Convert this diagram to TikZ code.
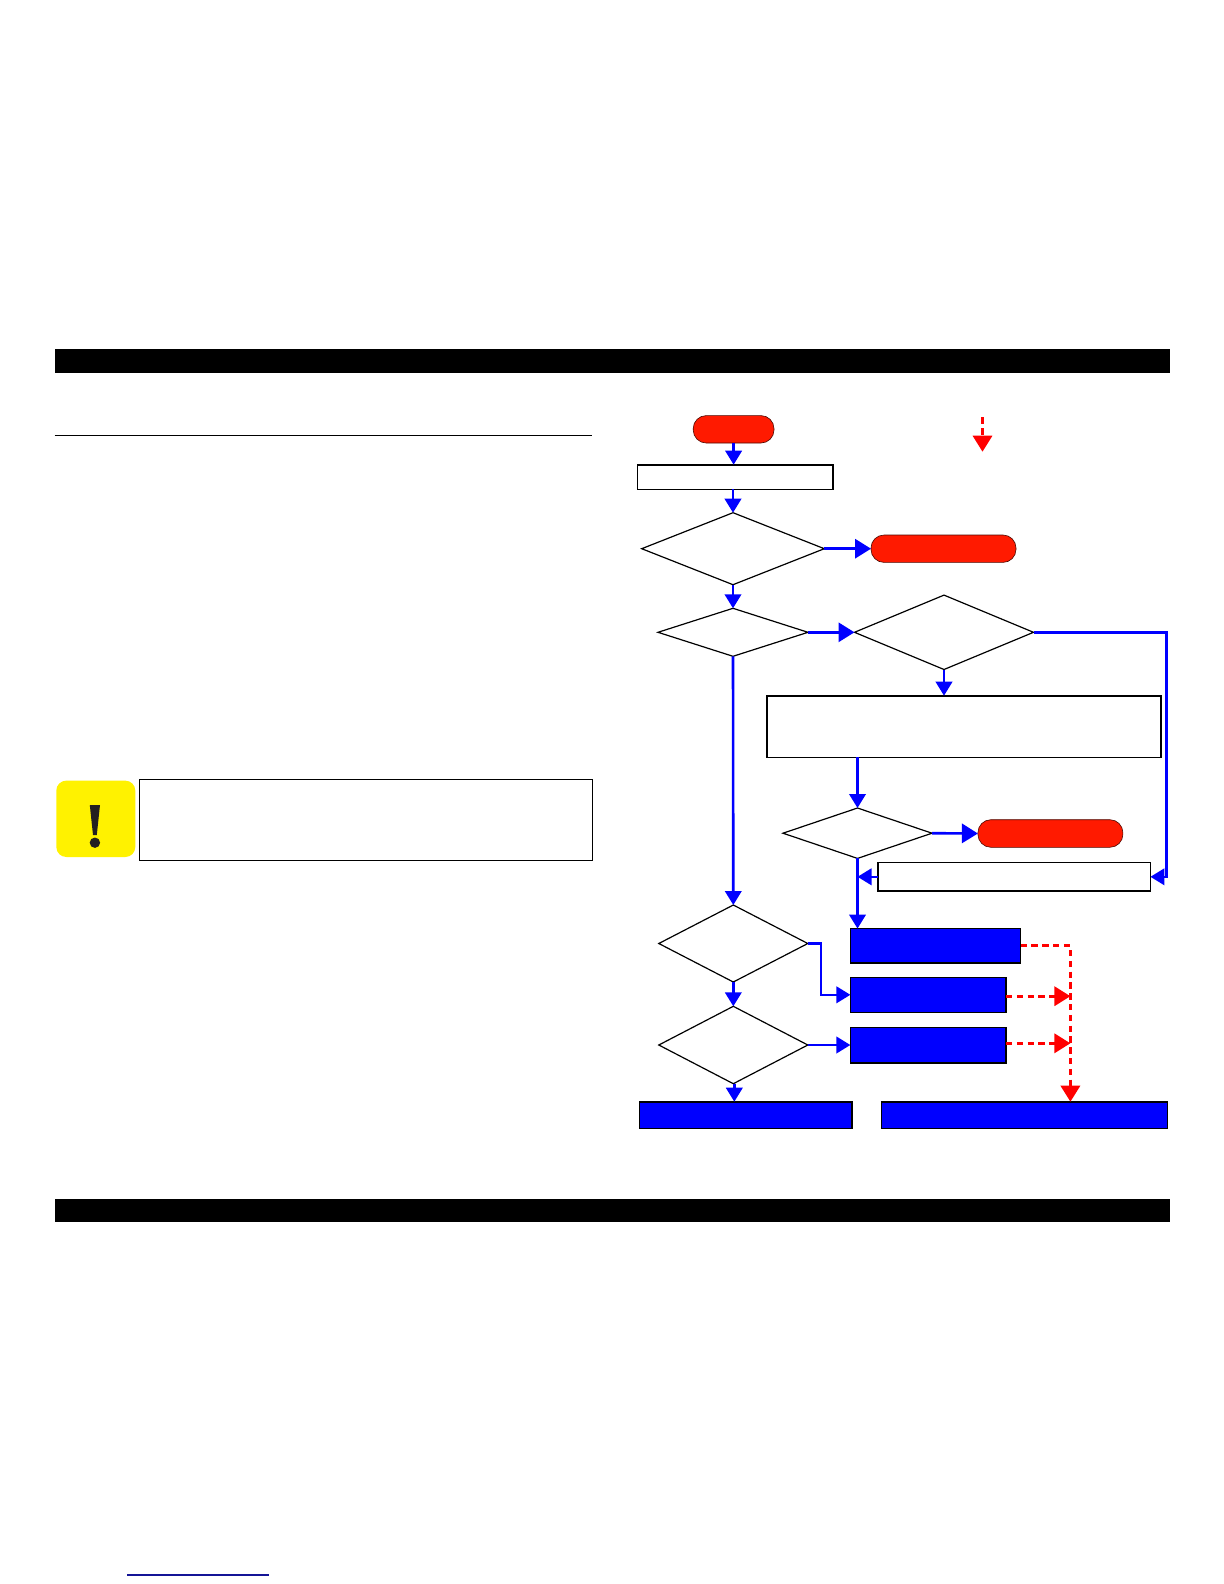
\documentclass[tikz,border=0pt]{standalone}
\usetikzlibrary{shapes.geometric,arrows.meta}
\definecolor{pillred}{RGB}{255,26,0}
\definecolor{iconyellow}{RGB}{255,242,0}
\definecolor{icondark}{RGB}{35,31,32}
\definecolor{linknavy}{RGB}{20,20,150}
\tikzset{
  shp/.style={inner sep=0pt,outer sep=0pt,line width=0.8pt,draw=black},
  whitebox/.style={shp,rectangle,fill=white},
  bluebox/.style={shp,rectangle,fill=blue,line width=0.8pt},
  decision/.style={shp,diamond,fill=white,aspect=1,line width=0.6pt},
  pill/.style={rectangle,inner sep=0pt,outer sep=0pt,rounded corners=6.5pt,fill=pillred,draw=black!70!pillred,line width=0.3pt},
  bar/.style={rectangle,fill=black,inner sep=0pt,outer sep=0pt},
  flow/.style={draw=blue,line width=1.3pt,-{Triangle[length=7pt,width=8.2pt]}},
  flowbig/.style={draw=blue,line width=1.3pt,-{Triangle[length=8pt,width=9.6pt]}},
  redflow/.style={draw=red,line width=1.4pt,dash pattern=on 3.2pt off 2.2pt,-{Triangle[length=8pt,width=9.6pt]}},
}
\begin{document}
\begin{tikzpicture}[x=0.5pt,y=-0.5pt]
\useasboundingbox (0,0) rectangle (1224,1584);
% header, footer, rule, link line
\node[bar,minimum width=557.5pt,minimum height=11.6pt] (topbar) at (612,361) {};
\node[bar,minimum width=557.5pt,minimum height=11.4pt] (botbar) at (612,1210.5) {};
\coordinate (hrL) at (54.5,435.3); \coordinate (hrR) at (592,435.3);
\draw[line width=0.4pt,black] (hrL) -- (hrR);
\coordinate (lkL) at (127,1575); \coordinate (lkR) at (269,1575);
\draw[line width=0.55pt,linknavy] (lkL) -- (lkR);
% caution icon and box
\node[rectangle,fill=iconyellow,rounded corners=5pt,inner sep=0pt,minimum width=39.5pt,minimum height=38.2pt] (icon) at (95.8,818.8) {};
\fill[icondark] (89.8,805) -- (100,805) -- (96.8,835) -- (93,835) -- cycle;
\fill[icondark] (94.9,842.7) circle[radius=5.2];
\node[whitebox,line width=0.6pt,minimum width=226.7pt,minimum height=40.5pt] (note) at (366,819.8) {};
% flowchart nodes
\node[pill,minimum width=40.4pt,minimum height=13.7pt] (start) at (733.6,429.3) {};
\node[whitebox,minimum width=97.85pt,minimum height=12.3pt] (r1) at (735.35,477) {};
\node[decision,minimum width=91.3pt,minimum height=36pt] (d1) at (733,548.7) {};
\node[pill,minimum width=72.5pt,minimum height=13.7pt] (e1) at (943.5,548.7) {};
\node[decision,minimum width=75pt,minimum height=24pt] (d2) at (733,632.3) {};
\node[decision,minimum width=89.5pt,minimum height=37.2pt] (d3) at (944,632.3) {};
\node[whitebox,minimum width=197pt,minimum height=30.8pt] (r2) at (963.7,726.5) {};
\node[decision,minimum width=74.5pt,minimum height=25.2pt] (d4) at (857.5,833.2) {};
\node[pill,minimum width=72.5pt,minimum height=13.8pt] (e2) at (1050.4,833.5) {};
\node[whitebox,minimum width=136.1pt,minimum height=14.2pt] (r3) at (1014.3,876.8) {};
\node[decision,minimum width=74.5pt,minimum height=38.5pt] (d5) at (733.3,943.5) {};
\node[bluebox,minimum width=85.1pt,minimum height=17.2pt] (b1) at (935.5,945.8) {};
\node[bluebox,minimum width=77.8pt,minimum height=17.5pt] (b2) at (928.2,994.8) {};
\node[decision,minimum width=74.5pt,minimum height=38.7pt] (d6) at (733.3,1045) {};
\node[bluebox,minimum width=77.8pt,minimum height=17.7pt] (b3) at (928.2,1045) {};
\node[bluebox,minimum width=106.2pt,minimum height=13.3pt] (b4) at (745.8,1115) {};
\node[bluebox,minimum width=143pt,minimum height=13.3pt] (b5) at (1024.4,1115) {};
% helper points
\coordinate (legS) at (982.5,417.3); \coordinate (legE) at (982.5,451.7);
\coordinate (rt) at (1166.4,876.8);
\coordinate (jog) at (821,994.8);
\coordinate (rv) at (1070.4,1000);
% blue connectors
\draw[flow] (start.south) -- (start.south |- r1.north);
\draw[flow] (d1.north |- r1.south) -- (d1.north);
\draw[flowbig] (d1.east) -- (e1.west);
\draw[flow] (d1.south) -- (d2.north);
\draw[flowbig] (d2.east) -- (d3.west);
\draw[flow] (d3.south) -- (d3.south |- r2.north);
\draw[flow] (d3.east) -| (rt) -- (r3.east);
\draw[flow] (d4.north |- r2.south) -- (d4.north);
\draw[flowbig] (d4.east) -- (e2.west);
\draw[flow] (d4.south) -- (d4.south |- b1.north);
\draw[flow] (r3.west) -- (r3.west -| d4.south);
\draw[flow] (d2.south) -- (d5.north);
\draw[flow] (d5.south) -- (d6.north);
\draw[flow] (d5.east) -| (jog) -- (b2.west);
\draw[flow] (d6.east) -- (b3.west);
\draw[flow] ([xshift=0.5pt]d6.south) -- ([xshift=0.5pt]d6.south |- b4.north);
% red connectors
\draw[redflow] (legS) -- (legE);
\draw[redflow] (b1.east) -| (rv |- b5.north);
\draw[redflow] ([yshift=-0.7pt]b2.east) -- ([yshift=-0.7pt]b2.east -| rv);
\draw[redflow] ([yshift=0.85pt]b3.east) -- ([yshift=0.85pt]b3.east -| rv);
\end{tikzpicture}
\end{document}
